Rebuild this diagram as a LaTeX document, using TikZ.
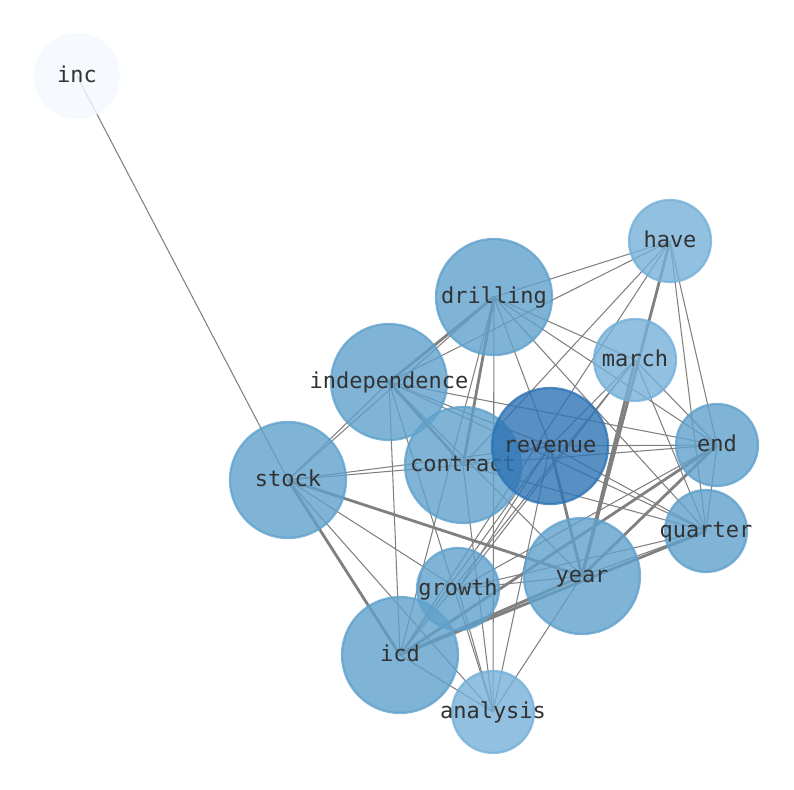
\documentclass[tikz,border=0pt]{standalone}
\usepackage{fontspec}
\setmonofont{DejaVu Sans Mono}
\definecolor{nodemid}{RGB}{96,161,204}
\definecolor{nodelight}{RGB}{117,176,216}
\definecolor{nodedark}{RGB}{46,116,181}
\definecolor{nodepale}{RGB}{244,249,255}
\definecolor{edgegray}{RGB}{128,128,128}
\definecolor{textgray}{RGB}{50,50,50}
\pgfdeclarelayer{bg}
\pgfsetlayers{bg,main}
\begin{document}
\begin{tikzpicture}[x=0.02cm, y=-0.02cm]
      \tikzstyle{STYL} = [font=\ttfamily\fontsize{12.5}{14}\selectfont, text=textgray, inner sep=0pt, text height=0.76em, text depth=0.04em]
      \tikzstyle{STY1} = [circle, inner sep=0pt, minimum size=2.32cm, fill=nodemid, draw=nodemid, line width=1.3pt, opacity=0.8]
      \tikzstyle{STY2} = [circle, inner sep=0pt, minimum size=1.64cm, fill=nodelight, draw=nodelight, line width=1.3pt, opacity=0.8]
      \tikzstyle{STY3} = [edgegray, line width=0.6pt]
      \tikzstyle{STY4} = [edgegray, line width=1.6pt]

      \useasboundingbox (0,0) rectangle (794,790);

      %%%%% VERTEX

      \node[STY2, fill=nodepale, draw=nodepale, minimum size=1.68cm, label={[STYL]center:inc}](inc) at (77, 76) {};

      \node[STY2, label={[STYL]center:have}](have) at (670, 241) {};
      \node[STY1, label={[STYL]center:drilling}](drilling) at (494, 297) {};
      \node[STY2, label={[STYL]center:march}](march) at (635, 360) {};
      \node[STY1, label={[STYL]center:independence}](independence) at (389, 382) {};

      \node[STY1, label={[STYL]center:contract}](contract) at (463, 465) {};
      \node[STY1, fill=nodedark, draw=nodedark, label={[STYL]center:revenue}](revenue) at (550, 446) {};
      \node[STY2, fill=nodemid, draw=nodemid, label={[STYL]center:end}](end) at (717, 445) {};
      \node[STY1, label={[STYL]center:stock}](stock) at (288, 480) {};
      \node[STY2, fill=nodemid, draw=nodemid, label={[STYL]center:quarter}](quarter) at (706, 531) {};

      \node[STY1, label={[STYL]center:year}](year) at (582, 576) {};
      \node[STY2, fill=nodemid, draw=nodemid, label={[STYL]center:growth}](growth) at (458, 589) {};
      \node[STY1, label={[STYL]center:icd}](icd) at (400, 655) {};
      \node[STY2, label={[STYL]center:analysis}](analysis) at (493, 712) {};

      %%%%% EDGES
      \begin{pgfonlayer}{bg}
      \draw[STY3] (inc.center) -- (stock.center);

      \draw[STY3] (stock.center) -- (independence.center);
      \draw[STY3] (stock.center) -- (drilling.center);
      \draw[STY3] (stock.center) -- (contract.center);
      \draw[STY3] (stock.center) -- (revenue.center);
      \draw[STY4] (stock.center) -- (year.center);
      \draw[STY3] (stock.center) -- (growth.center);
      \draw[STY4] (stock.center) -- (icd.center);
      \draw[STY3] (stock.center) -- (analysis.center);

      \draw[STY4] (independence.center) -- (drilling.center);
      \draw[STY3] (independence.center) -- (have.center);
      \draw[STY4] (independence.center) -- (contract.center);
      \draw[STY3] (independence.center) -- (revenue.center);
      \draw[STY3] (independence.center) -- (end.center);
      \draw[STY3] (independence.center) -- (quarter.center);
      \draw[STY3] (independence.center) -- (year.center);
      \draw[STY3] (independence.center) -- (icd.center);
      \draw[STY3] (independence.center) -- (analysis.center);

      \draw[STY3] (drilling.center) -- (have.center);
      \draw[STY3] (drilling.center) -- (march.center);
      \draw[STY4] (drilling.center) -- (contract.center);
      \draw[STY3] (drilling.center) -- (revenue.center);
      \draw[STY3] (drilling.center) -- (end.center);
      \draw[STY3] (drilling.center) -- (quarter.center);
      \draw[STY3] (drilling.center) -- (icd.center);
      \draw[STY3] (drilling.center) -- (analysis.center);

      \draw[STY3] (have.center) -- (contract.center);
      \draw[STY4] (have.center) -- (year.center);
      \draw[STY3] (have.center) -- (end.center);
      \draw[STY3] (have.center) -- (quarter.center);
      \draw[STY3] (have.center) -- (icd.center);

      \draw[STY4] (march.center) -- (year.center);
      \draw[STY3] (march.center) -- (end.center);
      \draw[STY3] (march.center) -- (quarter.center);
      \draw[STY3] (march.center) -- (revenue.center);
      \draw[STY3] (march.center) -- (icd.center);
      \draw[STY3] (march.center) -- (growth.center);

      \draw[STY3] (revenue.center) -- (contract.center);
      \draw[STY3] (revenue.center) -- (end.center);
      \draw[STY4] (revenue.center) -- (year.center);
      \draw[STY3] (revenue.center) -- (quarter.center);
      \draw[STY3] (revenue.center) -- (growth.center);
      \draw[STY3] (revenue.center) -- (icd.center);
      \draw[STY3] (revenue.center) -- (analysis.center);

      \draw[STY3] (end.center) -- (contract.center);
      \draw[STY3] (end.center) -- (growth.center);
      \draw[STY4] (end.center) -- (icd.center);
      \draw[STY4] (end.center) -- (year.center);
      \draw[STY3] (end.center) -- (quarter.center);

      \draw[STY3] (quarter.center) -- (year.center);
      \draw[STY3] (quarter.center) -- (growth.center);
      \draw[STY4] (quarter.center) -- (icd.center);
      \draw[STY3] (quarter.center) -- (contract.center);

      \draw[STY3] (year.center) -- (growth.center);
      \draw[STY4] (year.center) -- (icd.center);
      \draw[STY3] (year.center) -- (analysis.center);

      \draw[STY3] (growth.center) -- (analysis.center);
      \draw[STY3] (icd.center) -- (analysis.center);
      \draw[STY3] (contract.center) -- (analysis.center);
      \end{pgfonlayer}
    \end{tikzpicture}
\end{document}
